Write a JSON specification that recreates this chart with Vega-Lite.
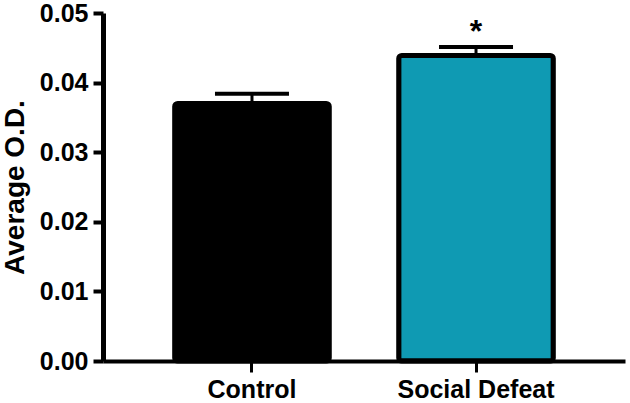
{
  "$schema": "https://vega.github.io/schema/vega-lite/v6.json",
  "width": 522,
  "height": 348,
  "autosize": {"type": "none"},
  "padding": {"left": 103, "top": 13, "right": 5, "bottom": 42},
  "background": "white",
  "config": {
    "view": {"stroke": null},
    "font": "Liberation Sans",
    "axis": {
      "labelFont": "Liberation Sans",
      "titleFont": "Liberation Sans",
      "labelFontWeight": "bold",
      "titleFontWeight": "bold",
      "labelColor": "black",
      "titleColor": "black",
      "domainColor": "black",
      "tickColor": "black",
      "grid": false
    }
  },
  "data": {
    "values": [
      {"group": "Control", "value": 0.0370, "upper": 0.0384, "sig": ""},
      {"group": "Social Defeat", "value": 0.0439, "upper": 0.0451, "sig": "*"}
    ]
  },
  "encoding": {
    "x": {
      "field": "group",
      "type": "nominal",
      "sort": ["Control", "Social Defeat"],
      "scale": {"paddingInner": 0.31, "paddingOuter": 0.32},
      "axis": {
        "title": null,
        "labelAngle": 0,
        "labelFontSize": 25,
        "labelPadding": 5,
        "domainWidth": 4,
        "tickWidth": 3,
        "tickSize": 11
      }
    }
  },
  "layer": [
    {
      "mark": {"type": "bar", "stroke": "black", "strokeWidth": 5, "cornerRadius": 3},
      "encoding": {
        "y": {
          "field": "value",
          "type": "quantitative",
          "scale": {"domain": [0, 0.05], "nice": false},
          "axis": {
            "title": "Average O.D.",
            "titleFontSize": 28,
            "titlePadding": 10,
            "labelFontSize": 25,
            "labelPadding": 5,
            "format": ".2f",
            "values": [0, 0.01, 0.02, 0.03, 0.04, 0.05],
            "domainWidth": 5,
            "tickWidth": 4,
            "tickSize": 10
          }
        },
        "fill": {
          "field": "group",
          "type": "nominal",
          "scale": {"domain": ["Control", "Social Defeat"], "range": ["#000000", "#0F9AB3"]},
          "legend": null
        }
      }
    },
    {
      "mark": {"type": "rule", "color": "black", "strokeWidth": 3},
      "encoding": {
        "y": {"field": "value", "type": "quantitative"},
        "y2": {"field": "upper"}
      }
    },
    {
      "mark": {"type": "tick", "color": "black", "opacity": 1, "thickness": 4, "size": 74, "orient": "horizontal"},
      "encoding": {
        "y": {"field": "upper", "type": "quantitative"}
      }
    },
    {
      "mark": {"type": "text", "fontSize": 32, "fontWeight": "bold", "baseline": "alphabetic", "dy": -5, "color": "black"},
      "encoding": {
        "y": {"field": "upper", "type": "quantitative"},
        "text": {"field": "sig"}
      }
    }
  ]
}
